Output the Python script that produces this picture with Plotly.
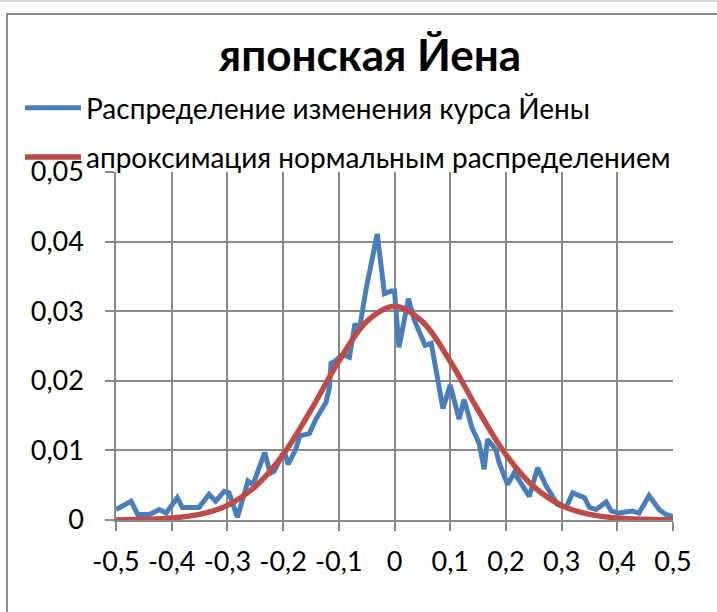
import plotly.graph_objects as go

# ---- data ----
blue_x = [-0.500, -0.473, -0.461, -0.440, -0.422, -0.410, -0.390, -0.381, -0.351, -0.333,
          -0.321, -0.306, -0.297, -0.282, -0.263, -0.254, -0.233, -0.223, -0.216, -0.198,
          -0.191, -0.178, -0.170, -0.153, -0.141, -0.129, -0.123, -0.117, -0.114, -0.107,
          -0.093, -0.081, -0.071, -0.063, -0.051, -0.031, -0.018, -0.006, 0.000, 0.008,
          0.025, 0.035, 0.055, 0.066, 0.087, 0.100, 0.116, 0.125, 0.139, 0.152,
          0.161, 0.167, 0.182, 0.188, 0.203, 0.215, 0.242, 0.257, 0.272, 0.293,
          0.308, 0.320, 0.341, 0.350, 0.362, 0.380, 0.389, 0.403, 0.427, 0.439,
          0.457, 0.475, 0.487, 0.500]
blue_y = [0.0015, 0.0027, 0.0008, 0.0008, 0.0015, 0.0010, 0.0032, 0.0018, 0.0018, 0.0037,
          0.0027, 0.0041, 0.0039, 0.0004, 0.0056, 0.0051, 0.0097, 0.0067, 0.0070, 0.0099,
          0.0080, 0.0100, 0.0121, 0.0124, 0.0145, 0.0161, 0.0169, 0.0190, 0.0225, 0.0228,
          0.0238, 0.0234, 0.0282, 0.0274, 0.0332, 0.0411, 0.0325, 0.0329, 0.0329, 0.0248,
          0.0318, 0.0288, 0.0251, 0.0254, 0.0160, 0.0194, 0.0145, 0.0173, 0.0133, 0.0110,
          0.0073, 0.0116, 0.0101, 0.0082, 0.0051, 0.0068, 0.0034, 0.0075, 0.0049, 0.0022,
          0.0018, 0.0039, 0.0032, 0.0018, 0.0015, 0.0026, 0.0013, 0.0010, 0.0013, 0.0010,
          0.0035, 0.0015, 0.0008, 0.0005]

red_x = [-0.50, -0.45, -0.40, -0.35, -0.30, -0.25, -0.20, -0.15, -0.10, -0.05, 0.00,
         0.05, 0.10, 0.15, 0.20, 0.25, 0.30, 0.35, 0.40, 0.45, 0.50]
red_y = [0.0000, 0.0001, 0.0003, 0.0008, 0.0021, 0.0048, 0.0094, 0.0158, 0.0228, 0.0285, 0.0307,
         0.0285, 0.0228, 0.0158, 0.0094, 0.0048, 0.0021, 0.0008, 0.0003, 0.0001, 0.0000]

x_ticks = [-0.5, -0.4, -0.3, -0.2, -0.1, 0.0, 0.1, 0.2, 0.3, 0.4, 0.5]
x_tick_labels = ["-0,5", "-0,4", "-0,3", "-0,2", "-0,1", "0", "0,1", "0,2", "0,3", "0,4", "0,5"]
y_ticks = [0.0, 0.01, 0.02, 0.03, 0.04, 0.05]
y_tick_labels = ["0", "0,01", "0,02", "0,03", "0,04", "0,05"]

title_text = "японская Йена"
blue_name = "Распределение изменения курса Йены"
red_name = "апроксимация нормальным распределением"

FONT = "Lato, 'Open Sans', sans-serif"
W, H = 717, 612
L, R, T, B = 116, 44, 172, 92
PW, PH = W - L - R, H - T - B

def px_x(p):
    return (p - L) / PW

def px_y(p):
    return (H - B - p) / PH

fig = go.Figure()
fig.add_trace(go.Scatter(x=blue_x, y=blue_y, mode="lines", name=blue_name,
                         legendgroup="a",
                         line=dict(color="#4a7ebb", width=5)))
fig.add_trace(go.Scatter(x=red_x, y=red_y, mode="lines", name=red_name,
                         legendgroup="b",
                         line=dict(color="#be4b48", width=5.5, shape="spline")))

grid = "#898989"
fig.update_layout(
    width=W, height=H,
    margin=dict(l=L, r=R, t=T, b=B),
    paper_bgcolor="white", plot_bgcolor="white",
    font=dict(family=FONT, color="black"),
    title=dict(text="<b>" + title_text + "</b>", x=370 / W, xref="container",
               y=1 - 56 / H, yref="container", xanchor="center", yanchor="middle",
               font=dict(size=44, family=FONT, color="black")),
    legend=dict(x=px_x(20), y=px_y(83), xanchor="left", yanchor="top",
                xref="paper", yref="paper",
                font=dict(size=28, family=FONT, color="black"),
                itemwidth=56, tracegroupgap=10, bgcolor="rgba(0,0,0,0)"),
    showlegend=True,
    xaxis=dict(range=[-0.5, 0.5], tickvals=x_ticks, ticktext=x_tick_labels,
               showgrid=True, gridcolor=grid, gridwidth=1.5,
               showline=True, linecolor=grid, linewidth=1.5,
               ticks="outside", ticklen=9, tickcolor=grid, tickwidth=1.5,
               tickfont=dict(size=27, family=FONT, color="black"),
               ticklabelstandoff=8, zeroline=False),
    yaxis=dict(range=[0, 0.05], tickvals=y_ticks, ticktext=y_tick_labels,
               showgrid=True, gridcolor=grid, gridwidth=1.5,
               showline=True, linecolor=grid, linewidth=1.5, mirror=False,
               ticks="outside", ticklen=9, tickcolor=grid, tickwidth=1.5,
               tickfont=dict(size=27, family=FONT, color="black"),
               ticklabelstandoff=16, zeroline=False),
    shapes=[
        dict(type="rect", xref="paper", yref="paper",
             x0=px_x(7), x1=px_x(730), y0=px_y(640), y1=px_y(14),
             line=dict(color="#8c8c8c", width=2), fillcolor="rgba(0,0,0,0)", layer="below"),
        dict(type="line", xref="paper", yref="paper",
             x0=px_x(0), x1=px_x(717), y0=px_y(1), y1=px_y(1),
             line=dict(color="#d9d9d9", width=2)),
    ],
)

fig.write_html("out.html", config={"displayModeBar": False},
               post_script="document.body.style.margin='0';document.body.style.overflow='hidden';")
